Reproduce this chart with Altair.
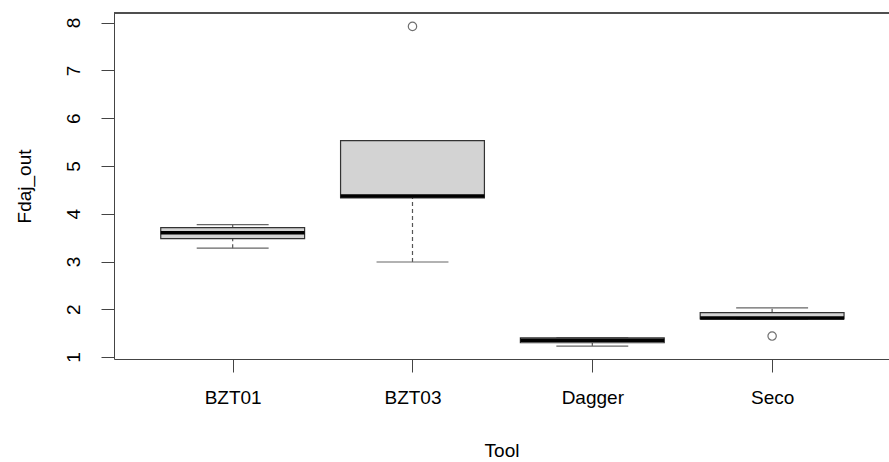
import altair as alt
import pandas as pd

tools = ["BZT01", "BZT03", "Dagger", "Seco"]
lower = [3.28, 2.99, 1.23, 1.80]
q1 = [3.48, 4.33, 1.30, 1.80]
median = [3.60, 4.37, 1.35, 1.82]
q3 = [3.71, 5.53, 1.40, 1.93]
upper = [3.77, 5.53, 1.40, 2.03]
outlier_tools = ["BZT03", "Seco"]
outlier_values = [7.92, 1.44]

pos = {t: i + 1 for i, t in enumerate(tools)}
box = pd.DataFrame({"tool": tools, "pos": [pos[t] for t in tools],
                    "lower": lower, "q1": q1, "median": median, "q3": q3, "upper": upper})
box["xl"] = box["pos"] - 0.4
box["xr"] = box["pos"] + 0.4
box["sl"] = box["pos"] - 0.2
box["sr"] = box["pos"] + 0.2
out = pd.DataFrame({"tool": outlier_tools, "pos": [pos[t] for t in outlier_tools],
                    "value": outlier_values})

W, H = 775, 346
FONT = "Liberation Sans"

xscale = alt.Scale(domain=[0.34, 4.65], nice=False, zero=False)
yscale = alt.Scale(domain=[0.96, 8.2], nice=False, zero=False)

label_expr = " : ".join([f"datum.value == {i+1} ? '{t}'" for i, t in enumerate(tools)]) + " : ''"

xaxis = alt.Axis(values=[1, 2, 3, 4], labelExpr=label_expr, title="Tool", grid=False,
                 tickSize=13, labelPadding=16, titlePadding=34, labelFontSize=19,
                 titleFontSize=19, titleFontWeight="normal", labelFont=FONT, titleFont=FONT,
                 labelColor="black", titleColor="black", domainColor="#444", tickColor="#444",
                 labelAngle=0)
yaxis = alt.Axis(values=[1, 2, 3, 4, 5, 6, 7, 8], title="Fdaj_out", grid=False,
                 tickSize=13, labelPadding=18, titlePadding=30, labelFontSize=19,
                 titleFontSize=19, titleFontWeight="normal", labelFont=FONT, titleFont=FONT,
                 labelColor="black", titleColor="black", domainColor="#444", tickColor="#444",
                 labelAngle=270, labelAlign="center", labelBaseline="bottom")

base = alt.Chart(box)

rects = base.mark_rect(fill="#d3d3d3", stroke="#333333", strokeWidth=1.2).encode(
    x=alt.X("xl:Q", scale=xscale, axis=xaxis),
    x2="xr:Q",
    y=alt.Y("q1:Q", scale=yscale, axis=yaxis),
    y2="q3:Q",
)
med = base.mark_rule(color="black", strokeWidth=3.5).encode(
    x=alt.X("xl:Q", scale=xscale), x2="xr:Q", y=alt.Y("median:Q", scale=yscale)
)
wh_up = base.mark_rule(color="#555555", strokeWidth=1.2, strokeDash=[4, 3]).encode(
    x=alt.X("pos:Q", scale=xscale), y=alt.Y("q3:Q", scale=yscale), y2="upper:Q"
)
wh_lo = base.mark_rule(color="#555555", strokeWidth=1.2, strokeDash=[4, 3]).encode(
    x=alt.X("pos:Q", scale=xscale), y=alt.Y("lower:Q", scale=yscale), y2="q1:Q"
)
st_up = base.mark_rule(color="#666666", strokeWidth=1.2).encode(
    x=alt.X("sl:Q", scale=xscale), x2="sr:Q", y=alt.Y("upper:Q", scale=yscale)
)
st_lo = base.mark_rule(color="#666666", strokeWidth=1.2).encode(
    x=alt.X("sl:Q", scale=xscale), x2="sr:Q", y=alt.Y("lower:Q", scale=yscale)
)
pts = alt.Chart(out).mark_point(shape="circle", filled=False, color="#333333",
                                 size=70, strokeWidth=1.2).encode(
    x=alt.X("pos:Q", scale=xscale), y=alt.Y("value:Q", scale=yscale)
)
top = alt.Chart(box).mark_rule(color="#444", strokeWidth=1).encode(
    x=alt.value(0), x2=alt.value(W), y=alt.value(0)
)

chart = alt.layer(wh_up, wh_lo, st_up, st_lo, rects, med, pts, top).properties(
    width=W, height=H,
    autosize=alt.AutoSizeParams(type="none"),
    padding={"left": 114, "top": 13, "right": 0, "bottom": 103},
    background="white",
).configure_view(stroke=None)

chart.save("out.html", embed_options={"renderer": "svg", "actions": False})
